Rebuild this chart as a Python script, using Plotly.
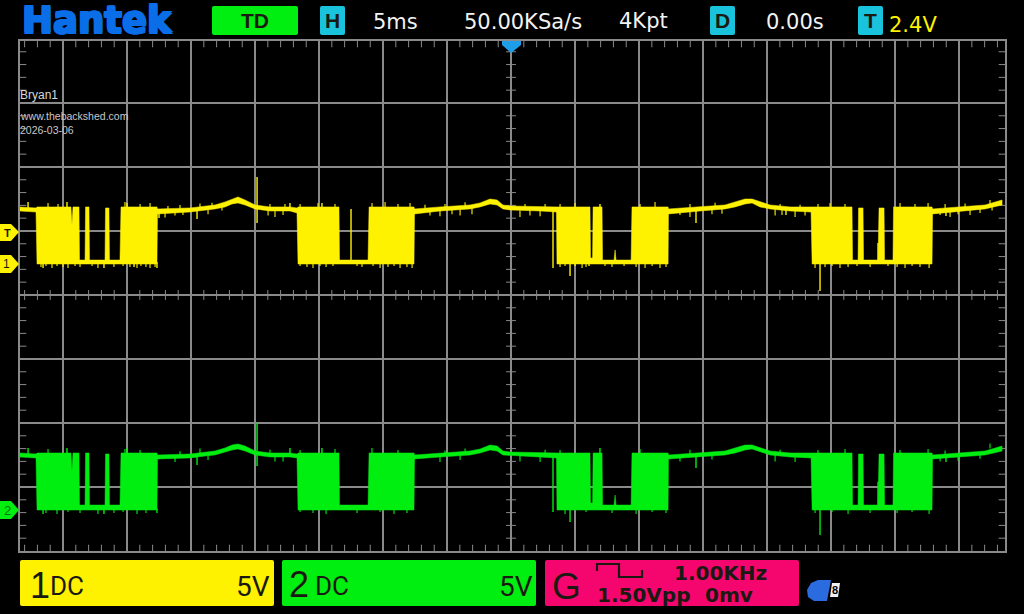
import plotly.graph_objects as go

# Time (ms) of each envelope vertex, shared by both channels
T = [-38.44,-37.11,-37.03,-34.38,-34.30,-34.22,-33.75,-33.71,-33.28,-33.24,-32.97,-32.93,-31.72,-31.68,-31.41,-31.37,-30.55,-30.47,-27.66,-27.62,
     -25.08,-23.91,-23.13,-22.34,-21.80,-21.33,-20.78,-20.0,-18.83,-17.27,-16.72,-16.64,-13.44,-13.40,-11.17,-11.09,-7.58,-7.54,-5.55,-3.20,
     -2.42,-1.64,-1.09,-0.63,-0.08,2.27,3.55,3.59,6.17,6.21,6.37,6.41,7.11,7.15,8.05,8.13,8.20,9.38,9.45,12.27,
     12.30,14.77,16.72,17.5,18.28,18.83,19.45,20.23,21.80,23.44,23.52,26.64,26.68,27.11,27.15,27.5,27.54,28.67,28.75,29.14,
     29.18,29.84,29.88,32.89,32.93,35.08,37.03,38.36]

CH1_HI = [6.88,6.80,6.88,6.88,5.47,6.88,6.88,2.73,2.73,6.88,6.88,2.73,2.73,6.80,6.80,2.73,2.73,6.88,6.88,6.72,
          6.80,6.95,7.03,7.27,7.5,7.66,7.42,7.03,6.88,6.88,6.80,6.88,6.88,2.73,2.73,6.88,6.88,6.72,6.88,7.03,
          7.19,7.5,7.42,7.03,6.95,6.88,6.88,6.88,6.88,2.89,2.89,6.88,6.88,2.73,2.73,3.52,2.73,2.73,6.88,6.88,
          6.72,6.88,7.03,7.27,7.5,7.5,7.27,7.03,6.88,6.88,6.88,6.88,2.73,2.73,6.80,6.80,2.73,2.73,6.80,6.80,
          2.73,2.73,6.88,6.88,6.72,6.88,7.03,7.42]
CH1_LO = [6.56,6.48,2.42,2.42,2.42,2.42,2.42,2.42,2.42,2.42,2.42,2.42,2.42,2.42,2.42,2.42,2.42,2.42,2.42,6.33,
          6.48,6.64,6.72,6.88,7.11,7.19,7.03,6.72,6.56,6.56,6.41,2.42,2.42,2.42,2.42,2.42,2.42,6.33,6.56,6.72,
          6.88,7.11,7.03,6.72,6.64,6.56,6.48,2.42,2.42,2.42,2.42,2.42,2.42,2.42,2.42,2.42,2.42,2.42,2.42,2.42,
          6.33,6.56,6.72,6.88,7.11,7.19,6.88,6.72,6.56,6.48,2.42,2.42,2.42,2.42,2.42,2.42,2.42,2.42,2.42,2.42,
          2.42,2.42,2.42,2.42,6.33,6.56,6.72,7.03]
CH2_HI = [-12.34,-12.42,-12.34,-12.34,-13.75,-12.34,-12.34,-16.41,-16.41,-12.34,-12.34,-16.41,-16.41,-12.42,-12.42,-16.41,-16.41,-12.34,-12.34,-12.5,
          -12.42,-12.27,-12.19,-11.95,-11.72,-11.64,-11.8,-12.19,-12.34,-12.34,-12.42,-12.34,-12.34,-16.41,-16.41,-12.34,-12.34,-12.5,-12.34,-12.19,
          -12.03,-11.72,-11.8,-12.19,-12.27,-12.34,-12.34,-12.34,-12.34,-16.25,-16.25,-12.34,-12.34,-16.41,-16.41,-15.63,-16.41,-16.41,-12.34,-12.34,
          -12.5,-12.34,-12.19,-11.95,-11.72,-11.72,-11.95,-12.19,-12.34,-12.34,-12.34,-12.34,-16.41,-16.41,-12.42,-12.42,-16.41,-16.41,-12.42,-12.42,
          -16.41,-16.41,-12.34,-12.34,-12.5,-12.34,-12.19,-11.8]
CH2_LO = [-12.66,-12.73,-16.8,-16.8,-16.8,-16.8,-16.8,-16.8,-16.8,-16.8,-16.8,-16.8,-16.8,-16.8,-16.8,-16.8,-16.8,-16.8,-16.8,-12.81,
          -12.73,-12.58,-12.5,-12.27,-12.11,-12.03,-12.19,-12.5,-12.66,-12.66,-12.73,-16.8,-16.8,-16.8,-16.8,-16.8,-16.8,-12.81,-12.66,-12.5,
          -12.34,-12.11,-12.19,-12.5,-12.58,-12.66,-12.73,-16.8,-16.8,-16.8,-16.8,-16.8,-16.8,-16.8,-16.8,-16.8,-16.8,-16.8,-16.8,-16.8,
          -12.81,-12.66,-12.5,-12.34,-12.11,-12.03,-12.27,-12.5,-12.66,-12.73,-16.8,-16.8,-16.8,-16.8,-16.8,-16.8,-16.8,-16.8,-16.8,-16.8,
          -16.8,-16.8,-16.8,-16.8,-12.81,-12.66,-12.5,-12.19]

# Large glitches: time (ms), upper and lower end (V)
GL1_T = [-37.73,-36.56,-34.69,-31.80,-30.0,-29.45,-27.66,-27.5,-24.53,-19.84,-17.27,-14.77,-12.5,3.28,4.61,5.0,6.09,6.95,14.45,21.48,24.14,28.67,33.98]
GL1_TOP = [7.27,2.58,7.27,2.58,7.19,2.58,2.58,6.64,6.64,9.22,7.19,7.19,6.72,6.88,2.58,2.58,2.58,7.11,6.64,6.64,3.36,4.06,6.64]
GL1_BOT = [6.80,2.11,6.80,2.11,6.80,2.19,2.11,6.02,5.94,5.63,6.80,6.80,2.5,2.11,1.48,2.27,2.27,6.80,5.63,6.25,0.31,2.6,6.17]
GL2_T = [-37.73,-36.56,-34.69,-31.80,-30.0,-27.66,-24.53,-19.84,-17.27,-14.77,3.28,4.61,6.95,14.45,24.14,28.67,33.98]
GL2_TOP = [-11.95,-16.64,-11.95,-16.64,-11.95,-16.64,-12.5,-10.0,-11.95,-11.95,-12.42,-16.64,-11.95,-12.5,-16.41,-14.6,-12.5]
GL2_BOT = [-12.58,-17.11,-12.58,-17.11,-12.58,-17.03,-13.28,-13.36,-12.58,-12.58,-16.95,-17.73,-12.58,-13.52,-18.75,-16.4,-13.05]

# Small noise ticks: time (ms) and tip (V)
LOW1_T = [-36.72,-36.33,-35.86,-35.47,-35.0,-34.61,-34.06,-33.67,-32.73,-32.27,-31.02,-30.31,-29.77,-29.22,-28.91,-28.52,-28.2,-27.81,
          -16.48,-15.94,-15.47,-14.92,-14.45,-13.91,-12.03,-11.64,-10.78,-10.23,-9.61,-9.14,-8.67,-8.13,-7.73,
          3.83,4.22,5.55,5.86,7.34,7.89,8.83,9.77,10.47,11.02,11.64,12.11,
          23.75,24.53,25.08,25.70,26.33,27.03,28.05,29.45,30.16,30.78,31.33,31.95,32.66]
LOW1_TIP = [2.19,2.27,2.11,2.27,2.19,2.11,2.27,2.19,2.27,2.11,2.19,2.27,2.19,2.11,2.27,2.19,2.11,2.19,
            2.27,2.19,2.11,2.27,2.19,2.27,2.27,2.19,2.27,2.11,2.19,2.27,2.11,2.19,2.11,
            2.19,2.27,2.11,2.19,2.27,2.19,2.27,2.19,2.11,2.27,2.11,2.19,
            2.11,2.19,2.27,2.11,2.19,2.27,2.19,2.27,2.19,2.11,2.27,2.19,2.11]
UP1_T = [-36.17,-35.39,-30.16,-28.98,-28.2,-16.48,-15.08,-13.75,-10.86,-9.84,-8.83,-7.89,3.83,5.0,10.08,11.25,23.98,24.92,26.09,30.39,31.56,32.58,
         -26.8,-25.86,-24.3,-23.36,-18.83,-17.66,-6.72,-5.16,-3.59,1.09,2.66,13.98,15.94,21.02,22.58,33.91,35.47,37.42]
UP1_TIP = [7.19,7.11,7.27,7.11,7.19,7.11,7.19,7.11,7.19,7.27,7.11,7.19,7.11,7.19,7.11,7.27,7.11,7.19,7.11,7.19,7.11,7.19,
           6.95,7.03,7.15,7.2,7.11,7.11,7.05,7.11,7.25,7.11,7.11,7.11,7.2,7.11,7.05,7.11,7.15,7.42]
DOWN1_T = [-27.03,-26.25,-25.63,-23.67,-22.58,-18.98,-18.44,-17.81,-6.33,-5.55,-4.61,-3.98,-3.05,0.7,1.48,2.27,13.2,13.98,15.7,16.48,20.63,21.17,22.19,22.97,33.52,34.3,34.92,35.86,36.64,37.58]
DOWN1_TIP = [6.05,6.2,6.25,6.3,6.6,6.2,6.1,6.25,6.2,6.15,6.3,6.2,6.3,6.1,6.2,6.15,6.25,6.1,6.3,6.35,6.2,6.25,6.1,6.2,6.25,6.1,6.3,6.25,6.4,6.6]

LOW2_T = [-36.33,-35.47,-34.61,-33.67,-32.27,-31.02,-30.31,-29.22,-28.52,-16.48,-15.47,-14.45,-12.03,-10.23,-9.14,-8.13,4.22,5.86,7.89,9.77,11.02,12.11,23.75,25.08,26.33,28.05,30.16,31.33,32.66]
LOW2_TIP = [-17.03,-17.11,-16.95,-17.03,-17.11,-17.03,-16.95,-17.11,-17.03,-16.95,-17.03,-17.11,-17.03,-16.95,-17.11,-17.03,-17.11,-16.95,-17.03,-17.11,-16.95,-17.03,-17.03,-16.95,-17.11,-17.03,-17.03,-16.95,-17.11]
UP2_T = [-36.17,-30.16,-28.98,-16.48,-13.75,-10.86,-8.83,3.83,10.08,23.98,26.09,30.39,32.58,-25.86,-24.3,-18.83,-5.16,-3.59,2.66,13.98,21.02,33.91,37.42]
UP2_TIP = [-12.03,-12.03,-12.11,-12.11,-12.03,-11.95,-12.11,-12.11,-12.03,-12.11,-12.03,-12.11,-12.03,-12.2,-12.0,-12.1,-12.15,-12.0,-12.1,-12.1,-12.1,-12.15,-11.6]
DOWN2_T = [-26.25,-23.67,-18.44,-17.81,-5.55,-3.98,0.7,2.27,13.2,15.7,20.63,22.19,33.52,34.92,36.64]
DOWN2_TIP = [-13.05,-12.9,-13.0,-13.0,-13.05,-12.9,-13.0,-13.05,-13.0,-12.85,-13.0,-13.05,-13.0,-12.95,-12.8]

X_RANGE = [-38.36, 38.59]
Y_RANGE = [-20.0, 19.84]
YELLOW = "#fff200"
GREEN = "#00ee10"
GRID = "#8a8a8a"
CYAN = "#19c3dc"
PINK = "#f5066e"
DARK = "#1a1a12"
BLUE = "#0a6ee8"
L, R, TOP, BOT = 20, 1005, 41, 551


def px(x):
    return (x - L) / (R - L)


def py(y):
    return (BOT - y) / (BOT - TOP)


def glitch_xy(ts, tops, bots):
    xs, ys = [], []
    for t, a, b in zip(ts, tops, bots):
        xs += [t, t, None]
        ys += [a, b, None]
    return xs, ys


fig = go.Figure()

# graticule minor ticks
minor_x = [v for v in range(-38, 39) if v % 5]
minor_y = [v for v in range(-19, 20) if v % 5]
for y0, n in ((Y_RANGE[1], 9), (Y_RANGE[0], 9), (0, 7)):
    fig.add_trace(go.Scatter(x=minor_x, y=[y0] * len(minor_x), mode="markers",
                             marker=dict(symbol="line-ns", size=n, line=dict(color=GRID, width=1)),
                             hoverinfo="skip"))
for x0, n in ((X_RANGE[0], 9), (X_RANGE[1], 9), (0, 7)):
    fig.add_trace(go.Scatter(x=[x0] * len(minor_y), y=minor_y, mode="markers",
                             marker=dict(symbol="line-ew", size=n, line=dict(color=GRID, width=1)),
                             hoverinfo="skip"))

channels = (
    (CH1_HI, CH1_LO, YELLOW, GL1_T, GL1_TOP, GL1_BOT, LOW1_T, LOW1_TIP, UP1_T, UP1_TIP, DOWN1_T, DOWN1_TIP, "CH1"),
    (CH2_HI, CH2_LO, GREEN, GL2_T, GL2_TOP, GL2_BOT, LOW2_T, LOW2_TIP, UP2_T, UP2_TIP, DOWN2_T, DOWN2_TIP, "CH2"),
)
for hi, lo, col, gt, gtop, gbot, lt, ltip, ut, utip, dt, dtip, name in channels:
    fig.add_trace(go.Scatter(x=T + T[::-1], y=hi + lo[::-1], mode="lines", fill="toself",
                             fillcolor=col, line=dict(color=col, width=0.5), name=name))
    gx, gy = glitch_xy(gt, gtop, gbot)
    fig.add_trace(go.Scatter(x=gx, y=gy, mode="lines", line=dict(color=col, width=1.4), name=name))
    nx, ny = glitch_xy(lt + ut + dt,
                       [v + 0.4 for v in ltip] + utip + [v + 0.5 for v in dtip],
                       ltip + [v - 0.4 for v in utip] + dtip)
    fig.add_trace(go.Scatter(x=nx, y=ny, mode="lines", line=dict(color=col, width=1.1), name=name))


def rounded(x0, y0, x1, y1, color, r=2):
    X0, X1, Y0, Y1 = px(x0), px(x1), py(y0), py(y1)
    rx, ry = r / (R - L), r / (BOT - TOP)
    path = (f"M{X0+rx},{Y0} L{X1-rx},{Y0} Q{X1},{Y0} {X1},{Y0-ry} L{X1},{Y1+ry} Q{X1},{Y1} {X1-rx},{Y1} "
            f"L{X0+rx},{Y1} Q{X0},{Y1} {X0},{Y1+ry} L{X0},{Y0-ry} Q{X0},{Y0} {X0+rx},{Y0} Z")
    return dict(type="path", xref="paper", yref="paper", path=path, fillcolor=color, line=dict(width=0), layer="above")


def poly(points, color, width=0, fill=True):
    path = "M" + " L".join(f"{px(a)},{py(b)}" for a, b in points) + (" Z" if fill else "")
    return dict(type="path", xref="paper", yref="paper", path=path,
                fillcolor=color if fill else "rgba(0,0,0,0)",
                line=dict(width=width, color=color), layer="above")


shapes = [
    rounded(212, 6, 298, 35, "#00ee10"),
    rounded(320, 6, 345, 35, CYAN),
    rounded(710, 6, 735, 35, CYAN),
    rounded(858, 6, 883, 35, CYAN),
    rounded(20, 560, 274, 606, YELLOW),
    rounded(282, 560, 536, 606, GREEN),
    rounded(545, 560, 799, 606, PINK),
    poly([(0, 224), (11, 224), (19, 232), (11, 241), (0, 241)], YELLOW),
    poly([(0, 255), (11, 255), (19, 264), (11, 273), (0, 273)], YELLOW),
    poly([(0, 501), (11, 501), (19, 510), (11, 519), (0, 519)], GREEN),
    poly([(502, 41), (521, 41), (521, 45), (511, 53), (502, 45)], "#1e9ee8"),
    poly([(597, 571), (597, 564), (619, 564), (619, 577), (642, 577), (642, 570)], DARK, width=2.2, fill=False),
    poly([(818, 580), (831, 580), (827, 601), (814, 601), (808, 597), (807, 590), (811, 583)], "#2a6be0"),
    poly([(832, 583), (840, 583), (838, 597), (830, 597)], "#f0f0f0"),
]


def note(x, y, text, size, color, anchor="left", font="Liberation Sans", bold=False, shadow=None):
    t = f"<b>{text}</b>" if bold else text
    f = dict(size=size, color=color, family=font)
    if shadow:
        f["shadow"] = shadow
    return dict(x=px(x), y=py(y), xref="paper", yref="paper", text=t, showarrow=False, xanchor=anchor,
                yanchor="middle", font=f)


LOGO_SHADOW = ", ".join(f"{a}px {b}px 0 {BLUE}" for a, b in
                        ((0, -1), (0, -2), (1, 0), (-1, 0), (1, -2), (-1, -2)))
annotations = [
    note(20, 21.5, "Hantek", 37, BLUE, font="DejaVu Sans", bold=True, shadow=LOGO_SHADOW),
    note(255, 21, "TD", 21, DARK, "center", bold=True),
    note(332.5, 21, "H", 21, DARK, "center", bold=True),
    note(371, 22, "5ms", 21, "#f2f2f2", font="DejaVu Sans"),
    note(462, 22, "50.00KSa/s", 21, "#f2f2f2", font="DejaVu Sans"),
    note(617, 21, "4Kpt", 21, "#f2f2f2", font="DejaVu Sans"),
    note(722.5, 21, "D", 21, DARK, "center", bold=True),
    note(764, 22, "0.00s", 21, "#f2f2f2", font="DejaVu Sans"),
    note(870.5, 21, "T", 21, DARK, "center", bold=True),
    note(887, 25, "2.4V", 21, YELLOW, font="DejaVu Sans"),
    note(18, 95, "Bryan1", 12, "#d8d8d8"),
    note(18, 116, "www.thebackshed.com", 10.5, "#c8c8c8"),
    note(18, 130, "2026-03-06", 10.5, "#c8c8c8"),
    note(7, 233, "T", 11, DARK, "center", bold=True),
    note(6, 264, "1", 12, DARK, "center"),
    note(7, 510, "2", 13, "#007a08", "center"),
    note(28, 585, "1", 36, DARK),
    note(48, 586, "DC", 26, DARK, font="Roboto"),
    note(272, 586, "5V", 28, DARK, "right", font="Roboto"),
    note(287, 584, "2", 36, DARK),
    note(313, 586, "DC", 26, DARK, font="Roboto"),
    note(535, 586, "5V", 28, DARK, "right", font="Roboto"),
    note(550, 586, "G", 37, DARK),
    note(672, 573, "1.00KHz", 20, DARK, font="DejaVu Sans", bold=True),
    note(595, 595, "1.50Vpp", 20, DARK, font="DejaVu Sans", bold=True),
    note(703, 595, "0mv", 20, DARK, font="DejaVu Sans", bold=True),
    note(835, 590, "8", 11, "#000000", "center", bold=True),
]

axis = dict(showticklabels=False, ticks="", showgrid=True, gridcolor=GRID, gridwidth=1.5, dtick=5, tick0=0,
            zeroline=True, zerolinecolor=GRID, zerolinewidth=1.5, showline=True, linecolor=GRID, linewidth=1.5,
            mirror=True, fixedrange=True)

fig.update_layout(
    width=1024, height=614, showlegend=False, paper_bgcolor="#000000", plot_bgcolor="#000000",
    margin=dict(l=L, r=1024 - R, t=TOP, b=614 - BOT, pad=0), shapes=shapes, annotations=annotations,
    xaxis=dict(axis, range=X_RANGE), yaxis=dict(axis, range=Y_RANGE),
)

fig.write_html("out.html", config={"displayModeBar": False},
               post_script="document.body.style.margin='0';document.body.style.overflow='hidden';")
